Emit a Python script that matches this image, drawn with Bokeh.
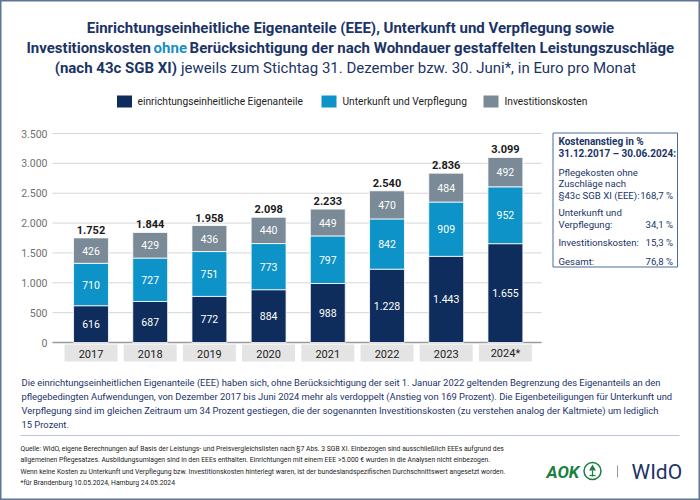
import numpy as np
from bokeh.plotting import figure
from bokeh.models import Range1d, ColumnDataSource
from bokeh.core.properties import value
from bokeh.embed import file_html
from bokeh.resources import INLINE

# ---------------- data ----------------
categories = ["2017", "2018", "2019", "2020", "2021", "2022", "2023", "2024*"]
eee = [616, 687, 772, 884, 988, 1228, 1443, 1655]
uv = [710, 727, 751, 773, 797, 842, 909, 952]
invest = [426, 429, 436, 440, 449, 470, 484, 492]
totals = [1752, 1844, 1958, 2098, 2233, 2540, 2836, 3099]
series_names = ["einrichtungseinheitliche Eigenanteile", "Unterkunft und Verpflegung", "Investitionskosten"]
y_ticks = [0, 500, 1000, 1500, 2000, 2500, 3000, 3500]

title_l1 = "Einrichtungseinheitliche Eigenanteile (EEE), Unterkunft und Verpflegung sowie"
title_l2 = ["Investitionskosten", "ohne", "Berücksichtigung der nach Wohndauer gestaffelten Leistungszuschläge"]
title_l3 = ["(nach 43c SGB XI)", "jeweils zum Stichtag 31. Dezember bzw. 30. Juni*, in Euro pro Monat"]

box_head = ["Kostenanstieg in %", "31.12.2017 – 30.06.2024:"]
box_rows = [
    (["Pflegekosten ohne", "Zuschläge nach", "§43c SGB XI (EEE):"], "168,7 %"),
    (["Unterkunft und", "Verpflegung:"], "34,1 %"),
    (["Investitionskosten:"], "15,3 %"),
    (["Gesamt:"], "76,8 %"),
]

paragraph = [
    "Die einrichtungseinheitlichen Eigenanteile (EEE) haben sich, ohne Berücksichtigung der seit 1. Januar 2022 geltenden Begrenzung des Eigenanteils an den",
    "pflegebedingten Aufwendungen, von Dezember 2017 bis Juni 2024 mehr als verdoppelt (Anstieg von 169 Prozent). Die Eigenbeteiligungen für Unterkunft und",
    "Verpflegung sind im gleichen Zeitraum um 34 Prozent gestiegen, die der sogenannten Investitionskosten (zu verstehen analog der Kaltmiete) um lediglich",
    "15 Prozent.",
]
footnote = [
    "Quelle: WIdO, eigene Berechnungen auf Basis der Leistungs- und Preisvergleichslisten nach §7 Abs. 3 SGB XI. Einbezogen sind ausschließlich EEEs aufgrund des",
    "allgemeinen Pflegesatzes. Ausbildungsumlagen sind in den EEEs enthalten. Einrichtungen mit einem EEE >5.000 € wurden in die Analysen nicht einbezogen.",
    "Wenn keine Kosten zu Unterkunft und Verpflegung bzw. Investitionskosten hinterlegt waren, ist der bundeslandspezifischen Durchschnittswert angesetzt worden.",
    "*für Brandenburg 10.05.2024, Hamburg 24.05.2024",
]

# ---------------- style ----------------
C_EEE = "#0f2d5c"
C_UV = "#0d93c7"
C_INV = "#7a8a96"
NAVY = "#1b3466"
FONT = value("Roboto")

def fmt(v):
    return f"{v:,}".replace(",", ".")

W, H = 700, 500
p = figure(width=W, height=H, x_range=Range1d(0, W), y_range=Range1d(H, 0),
           output_backend="svg", toolbar_location=None, min_border=0,
           x_axis_location=None, y_axis_location=None)
p.grid.visible = False
p.background_fill_color = "white"
p.border_fill_color = "white"
p.outline_line_color = "#5f7595"
p.outline_line_width = 2

# value scale: 0 at pixel 342, 3500 at pixel 133
Y0, Y_TOP = 342.0, 133.0
k = (Y0 - Y_TOP) / 3500.0
p.extra_y_ranges = {"val": Range1d(start=(Y0 - H) / k, end=Y0 / k)}
# category scale: first category centre at pixel 90.5, spacing 59.2
X0, DX = 90.5, 59.2
p.extra_x_ranges = {"cat": Range1d(start=-X0 / DX, end=(W - X0) / DX)}

idx = np.arange(len(categories), dtype=float)

# ---------------- grid & y tick labels ----------------
PL, PR = 52, 541
p.segment(x0=[PL] * len(y_ticks), x1=[PR] * len(y_ticks), y0=y_ticks, y1=y_ticks,
          y_range_name="val", line_color="#d6d6d6", line_width=1)
p.segment(x0=[PL], x1=[PR], y0=[0], y1=[0], y_range_name="val", line_color="#9a9a9a", line_width=1.5)
p.text(x=[47] * len(y_ticks), y=y_ticks, text=[fmt(v) for v in y_ticks], y_range_name="val",
       text_align="right", text_baseline="middle", text_font=FONT, text_font_size="10.5px",
       text_color="#707070")

# ---------------- bars ----------------
src = ColumnDataSource(dict(x=idx, eee=eee, uv=uv, invest=invest))
p.vbar_stack(["eee", "uv", "invest"], x="x", width=0.59, color=[C_EEE, C_UV, C_INV],
             source=src, x_range_name="cat", y_range_name="val",
             line_color="white", line_width=0.8)

e = np.array(eee, float)
u = np.array(uv, float)
iv = np.array(invest, float)
seg_x = np.concatenate([idx, idx, idx])
seg_y = np.concatenate([e / 2, e + u / 2, e + u + iv / 2])
seg_t = [fmt(v) for v in eee] + [fmt(v) for v in uv] + [fmt(v) for v in invest]
p.text(x=seg_x, y=seg_y, text=seg_t, x_range_name="cat", y_range_name="val",
       text_align="center", text_baseline="middle", text_font=FONT, text_font_size="10.5px",
       text_color="white")

p.text(x=idx, y=totals, text=[fmt(v) for v in totals], x_range_name="cat", y_range_name="val",
       text_align="center", text_baseline="bottom", y_offset=-4, text_font=FONT,
       text_font_size="11px", text_font_style="bold", text_color="#1a1a1a")

# category boxes + labels
p.quad(left=idx - 0.447, right=idx + 0.447, top=[344] * len(idx), bottom=[361] * len(idx),
       x_range_name="cat", fill_color="#e4e4e4", line_color=None)
p.text(x=idx, y=[353] * len(idx), text=categories, x_range_name="cat",
       text_align="center", text_baseline="middle", text_font=FONT, text_font_size="11px",
       text_color="#222222")

# ---------------- title ----------------
TS = "15px"
p.text(x=[350], y=[27], text=[title_l1], text_align="center", text_baseline="middle",
       text_font=FONT, text_font_size=TS, text_font_style="bold", text_color=NAVY)
p.text(x=[150.5], y=[47], text=[title_l2[0]], text_align="right", text_baseline="middle",
       text_font=FONT, text_font_size=TS, text_font_style="bold", text_color=NAVY)
p.text(x=[169.8], y=[47], text=[title_l2[1]], text_align="center", text_baseline="middle",
       text_font=FONT, text_font_size=TS, text_font_style="bold", text_color="#1a8fc4")
p.text(x=[189.1], y=[47], text=[title_l2[2]], text_align="left", text_baseline="middle",
       text_font=FONT, text_font_size=TS, text_font_style="bold", text_color=NAVY)
p.text(x=[176.5], y=[67], text=[title_l3[0]], text_align="right", text_baseline="middle",
       text_font=FONT, text_font_size=TS, text_font_style="bold", text_color=NAVY)
p.text(x=[180.5], y=[67], text=[title_l3[1]], text_align="left", text_baseline="middle",
       text_font=FONT, text_font_size=TS, text_color=NAVY)

# ---------------- legend ----------------
leg_sq = [124, 328.5, 490.5]
leg_tx = [137, 342, 504]
p.rect(x=leg_sq, y=[101] * 3, width=15, height=12, fill_color=[C_EEE, C_UV, C_INV], line_color=None)
p.text(x=leg_tx, y=[101] * 3, text=series_names, text_align="left", text_baseline="middle",
       text_font=FONT, text_font_size="10.2px", text_color="#222222")

# ---------------- info box ----------------
p.quad(left=[552.5], right=[677], top=[132.5], bottom=[266.5], fill_color=None,
       line_color="#4b6b9b", line_width=1)
p.text(x=[558, 558], y=[141, 153], text=box_head, text_align="left", text_baseline="middle",
       text_font=FONT, text_font_size="10px", text_font_style="bold", text_color=NAVY)
lab_y = [[171.5, 183, 194.5], [212, 224], [242], [260.5]]
lx, ly, lt, vx, vy, vt = [], [], [], [], [], []
for (labels, val), ys in zip(box_rows, lab_y):
    for t, yy in zip(labels, ys):
        lx.append(558); ly.append(yy); lt.append(t)
    vx.append(672.5); vy.append(ys[-1]); vt.append(val)
p.text(x=lx, y=ly, text=lt, text_align="left", text_baseline="middle",
       text_font=FONT, text_font_size="9.6px", text_color=NAVY)
p.text(x=vx, y=vy, text=vt, text_align="right", text_baseline="middle",
       text_font=FONT, text_font_size="9.6px", text_color=NAVY)

# ---------------- paragraph ----------------
p.text(x=[21] * len(paragraph), y=[382, 396, 410, 424], text=paragraph, text_align="left",
       text_baseline="middle", text_font=FONT, text_font_size="9.4px", text_color=NAVY)

p.segment(x0=[20], x1=[679], y0=[435], y1=[435], line_color="#b9c5d6", line_width=1)

p.text(x=[20] * len(footnote), y=[448, 459.5, 471, 482.5], text=footnote, text_align="left",
       text_baseline="middle", text_font=FONT, text_font_size="6.8px", text_color="#222222")

# ---------------- logos ----------------
GREEN = "#1b7f3f"
p.text(x=[546], y=[471], text=["AOK"], text_align="left", text_baseline="middle",
       text_font=FONT, text_font_size="17px", text_font_style="bold italic", text_color=GREEN)
p.circle(x=[592], y=[470.5], radius=8.5, fill_color=None, line_color=GREEN, line_width=1.5)
p.scatter(x=[592], y=[468], size=7, marker="triangle", fill_color=GREEN, line_color=None)
p.segment(x0=[589, 592], x1=[595, 592], y0=[475, 470], y1=[475, 476], line_color=GREEN, line_width=1.2)
p.segment(x0=[617], x1=[617], y0=[465], y1=[477], line_color="#999999", line_width=1)
p.text(x=[631], y=[471], text=["WIdO"], text_align="left", text_baseline="middle",
       text_font=FONT, text_font_size="21px", text_color=NAVY)

open("out.html", "w").write(file_html(p, INLINE))
